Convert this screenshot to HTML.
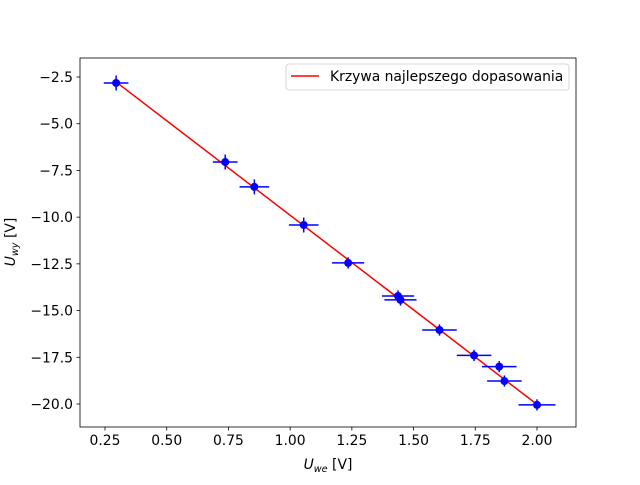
<!DOCTYPE html>
<html><head><meta charset="utf-8"><style>
body{margin:0;background:#fff}
svg text{font-family:"DejaVu Sans","Liberation Sans",sans-serif;font-size:13.9px;fill:#000}
</style></head><body>
<svg id="c" width="640" height="480"></svg>
<script>
const xVals=[0.295,0.737,0.855,1.055,1.235,1.437,1.447,1.605,1.745,1.847,1.868,2.0];
const yVals=[-2.82,-7.05,-8.38,-10.42,-12.45,-14.22,-14.43,-16.04,-17.4,-18.0,-18.77,-20.05];
const xErr=[0.05,0.05,0.06,0.06,0.065,0.065,0.065,0.07,0.07,0.07,0.07,0.075];
const yErr=[0.4,0.4,0.4,0.4,0.3,0.3,0.3,0.3,0.3,0.3,0.3,0.3];
const xTicks=[0.25,0.5,0.75,1.0,1.25,1.5,1.75,2.0];
const xTickLabels=["0.25","0.50","0.75","1.00","1.25","1.50","1.75","2.00"];
const yTicks=[-2.5,-5,-7.5,-10,-12.5,-15,-17.5,-20];
const yTickLabels=["−2.5","−5.0","−7.5","−10.0","−12.5","−15.0","−17.5","−20.0"];
const fitSlope=-10.12, fitIntercept=0.22;
const fitRange=[0.295,2.0];
const NS="http://www.w3.org/2000/svg";
const svg=document.getElementById('c');
const L=80,R=576,T=58,B=427;
const X=v=>105+(v-0.25)*(432/1.75);
const Y=v=>77+(-2.5-v)*(327/17.5);
function el(t,a,p){const e=document.createElementNS(NS,t);for(const k in a)e.setAttribute(k,a[k]);(p||svg).appendChild(e);return e;}
xTicks.forEach((t,i)=>{const x=X(t);
const l=el('line',{x1:x,x2:x,y1:B,y2:B+3.5,stroke:'#000','stroke-width':0.8});

const tx=el('text',{x:x,y:B+18,'text-anchor':'middle'});tx.textContent=xTickLabels[i];
});
yTicks.forEach((t,i)=>{const y=Y(t);
const l=el('line',{x1:L-3.5,x2:L,y1:y,y2:y,stroke:'#000','stroke-width':0.8});

const tx=el('text',{x:L-7,y:y+5,'text-anchor':'end'});tx.textContent=yTickLabels[i];
});
const fl=el('line',{x1:X(fitRange[0]),y1:Y(fitSlope*fitRange[0]+fitIntercept),x2:X(fitRange[1]),y2:Y(fitSlope*fitRange[1]+fitIntercept),stroke:'#ff0000','stroke-width':1.5});

xVals.forEach((xv,i)=>{const x=X(xv),y=Y(yVals[i]);
const g=el('g',{});

el('line',{x1:X(xv-xErr[i]),x2:X(xv+xErr[i]),y1:y,y2:y,stroke:'#0000ff','stroke-width':1.5},g);
el('line',{x1:x,x2:x,y1:Y(yVals[i]-yErr[i]),y2:Y(yVals[i]+yErr[i]),stroke:'#0000ff','stroke-width':1.5},g);
el('circle',{cx:x,cy:y,r:4,fill:'#0000ff'},g);});
const fr=el('rect',{x:L,y:T,width:R-L,height:B-T,fill:'none',stroke:'#000','stroke-width':0.8});

</script>
<svg width="640" height="480" style="position:absolute;left:0;top:0">
<text x="328" y="469" text-anchor="middle" style="font-family:'DejaVu Sans',sans-serif;font-size:13.9px"><tspan font-style="italic">U</tspan><tspan font-style="italic" font-size="9.7" dy="3">we</tspan><tspan dy="-3"> [V]</tspan></text>
<text transform="translate(15,242) rotate(-90)" text-anchor="middle" style="font-family:'DejaVu Sans',sans-serif;font-size:13.9px"><tspan font-style="italic">U</tspan><tspan font-style="italic" font-size="9.7" dy="3">wy</tspan><tspan dy="-3"> [V]</tspan></text>
<g>
<rect x="286" y="64" width="283" height="26" rx="3" fill="#fff" stroke="#ccc" stroke-width="0.8"/>
<line x1="291" x2="319" y1="76" y2="76" stroke="#ff0000" stroke-width="1.5"/>
<text x="330" y="81" style="font-family:'DejaVu Sans',sans-serif;font-size:13.9px">Krzywa najlepszego dopasowania</text>
</g>
</svg>
</body></html>
